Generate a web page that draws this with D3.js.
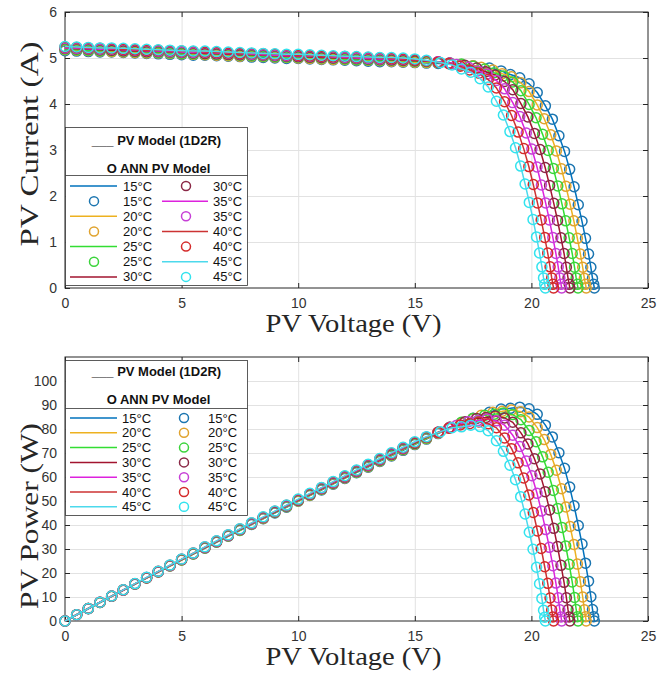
<!DOCTYPE html>
<html>
<head>
<meta charset="utf-8">
<script src="https://cdn.jsdelivr.net/npm/d3@7"></script>
<style>
  body { margin: 0; background: #fff; }
  svg { display: block; }
  .grid line { stroke: #e2e2e2; stroke-width: 1; }
  .grid path { display: none; }
  .axis path { display: none; }
  .axis line { stroke: #262626; }
  .axis text { font-family: "Liberation Sans", Arial, sans-serif; font-size: 14px; fill: #333; }
  .title { font-family: "Liberation Serif", "Times New Roman", serif; font-size: 25px; fill: #262626; }
  .legend text { font-family: "Liberation Sans", Arial, sans-serif; font-size: 13px; fill: #111; }
  .legend .head { font-weight: bold; }
</style>
</head>
<body>
<svg id="chart" width="670" height="673"></svg>
<script>
const temperatures = ["15°C", "20°C", "25°C", "30°C", "35°C", "40°C", "45°C"];

const xTicks = [0, 5, 10, 15, 20, 25];
const currentTicks = [0, 1, 2, 3, 4, 5, 6];
const powerTicks = [0, 10, 20, 30, 40, 50, 60, 70, 80, 90, 100];

// voltage steps along the flat part of every curve (V)
const flatVoltage = [0, 0.5, 1, 1.5, 2, 2.5, 3, 3.5, 4, 4.5, 5, 5.5, 6, 6.5, 7, 7.5, 8, 8.5,
  9, 9.5, 10, 10.5, 11, 11.5, 12, 12.5, 13, 13.5, 14, 14.5, 15, 15.5, 16, 16.5, 17, 17.5];

// voltages past the knee, down to Voc
const kneeVoltage15 = [18.2, 18.7, 19.1, 19.5, 19.9, 20.25, 20.6, 20.9, 21.18, 21.42, 21.64, 21.83, 22.01, 22.17, 22.32, 22.45, 22.55, 22.62, 22.67, 22.7];
const kneeVoltage20 = [17.85, 18.35, 18.75, 19.15, 19.55, 19.9, 20.25, 20.55, 20.83, 21.07, 21.29, 21.48, 21.66, 21.82, 21.97, 22.1, 22.2, 22.27, 22.32, 22.35];
const kneeVoltage25 = [17.5, 18.0, 18.4, 18.8, 19.2, 19.55, 19.9, 20.2, 20.48, 20.72, 20.94, 21.13, 21.31, 21.47, 21.62, 21.75, 21.85, 21.92, 21.97, 22.0];
const kneeVoltage30 = [17.15, 17.65, 18.05, 18.45, 18.85, 19.2, 19.55, 19.85, 20.13, 20.37, 20.59, 20.78, 20.96, 21.12, 21.27, 21.4, 21.5, 21.57, 21.62, 21.65];
const kneeVoltage35 = [16.8, 17.3, 17.7, 18.1, 18.5, 18.85, 19.2, 19.5, 19.78, 20.02, 20.24, 20.43, 20.61, 20.77, 20.92, 21.05, 21.15, 21.22, 21.27, 21.3];
const kneeVoltage40 = [16.45, 16.95, 17.35, 17.75, 18.15, 18.5, 18.85, 19.15, 19.43, 19.67, 19.89, 20.08, 20.26, 20.42, 20.57, 20.7, 20.8, 20.87, 20.92, 20.95];
const kneeVoltage45 = [16.1, 16.6, 17.0, 17.4, 17.8, 18.15, 18.5, 18.8, 19.08, 19.32, 19.54, 19.73, 19.91, 20.07, 20.22, 20.35, 20.45, 20.52, 20.57, 20.6];

// PV current (A): flat part then knee part
const current15 = [5.16, 5.15, 5.14, 5.13, 5.13, 5.12, 5.11, 5.10, 5.09, 5.08, 5.07, 5.06, 5.06, 5.05, 5.04, 5.03, 5.02, 5.01,
  5.00, 4.99, 4.99, 4.98, 4.97, 4.96, 4.95, 4.94, 4.93, 4.92, 4.92, 4.91, 4.90, 4.89, 4.88, 4.87, 4.85, 4.83,
  4.78, 4.72, 4.64, 4.57, 4.44, 4.25, 3.96, 3.67, 3.31, 2.97, 2.58, 2.20, 1.81, 1.45, 1.08, 0.74, 0.45, 0.21, 0.08, 0];
const current20 = [5.18, 5.17, 5.16, 5.15, 5.14, 5.13, 5.12, 5.11, 5.11, 5.10, 5.09, 5.08, 5.07, 5.06, 5.05, 5.04, 5.04, 5.03,
  5.02, 5.01, 5.00, 4.99, 4.98, 4.97, 4.97, 4.96, 4.95, 4.94, 4.93, 4.92, 4.91, 4.90, 4.90, 4.88, 4.85, 4.83,
  4.80, 4.74, 4.66, 4.59, 4.46, 4.27, 3.98, 3.68, 3.33, 2.98, 2.59, 2.21, 1.82, 1.46, 1.08, 0.74, 0.45, 0.21, 0.08, 0];
const current25 = [5.19, 5.18, 5.17, 5.16, 5.16, 5.15, 5.14, 5.13, 5.12, 5.11, 5.10, 5.09, 5.09, 5.08, 5.07, 5.06, 5.05, 5.04,
  5.03, 5.02, 5.02, 5.01, 5.00, 4.99, 4.98, 4.97, 4.96, 4.95, 4.95, 4.94, 4.93, 4.92, 4.91, 4.89, 4.87,
  4.82, 4.76, 4.68, 4.61, 4.48, 4.29, 3.99, 3.70, 3.34, 2.99, 2.60, 2.22, 1.83, 1.46, 1.09, 0.75, 0.45, 0.22, 0.08, 0];
const current30 = [5.21, 5.20, 5.19, 5.18, 5.17, 5.16, 5.15, 5.14, 5.14, 5.13, 5.12, 5.11, 5.10, 5.09, 5.08, 5.07, 5.07, 5.06,
  5.05, 5.04, 5.03, 5.02, 5.01, 5.00, 5.00, 4.99, 4.98, 4.97, 4.96, 4.95, 4.94, 4.93, 4.92, 4.89,
  4.84, 4.78, 4.70, 4.63, 4.49, 4.31, 4.01, 3.72, 3.36, 3.01, 2.62, 2.23, 1.84, 1.47, 1.09, 0.75, 0.45, 0.22, 0.08, 0];
const current35 = [5.22, 5.21, 5.20, 5.19, 5.19, 5.18, 5.17, 5.16, 5.15, 5.14, 5.13, 5.12, 5.12, 5.11, 5.10, 5.09, 5.08, 5.07,
  5.06, 5.05, 5.05, 5.04, 5.03, 5.02, 5.01, 5.00, 4.99, 4.98, 4.98, 4.97, 4.96, 4.94, 4.92, 4.89,
  4.86, 4.80, 4.72, 4.65, 4.51, 4.33, 4.03, 3.73, 3.37, 3.02, 2.63, 2.24, 1.85, 1.48, 1.10, 0.75, 0.46, 0.22, 0.08, 0];
const current40 = [5.24, 5.23, 5.22, 5.21, 5.20, 5.19, 5.18, 5.17, 5.17, 5.16, 5.15, 5.14, 5.13, 5.12, 5.11, 5.10, 5.10, 5.09,
  5.08, 5.07, 5.06, 5.05, 5.04, 5.03, 5.03, 5.02, 5.01, 5.00, 4.99, 4.98, 4.96, 4.94, 4.91,
  4.88, 4.82, 4.74, 4.67, 4.53, 4.35, 4.05, 3.75, 3.39, 3.03, 2.64, 2.25, 1.85, 1.48, 1.10, 0.76, 0.46, 0.22, 0.08, 0];
const current45 = [5.25, 5.24, 5.23, 5.22, 5.22, 5.21, 5.20, 5.19, 5.18, 5.17, 5.16, 5.15, 5.15, 5.14, 5.13, 5.12, 5.11, 5.10,
  5.09, 5.08, 5.08, 5.07, 5.06, 5.05, 5.04, 5.03, 5.02, 5.01, 5.01, 5.00, 4.98, 4.95,
  4.90, 4.85, 4.76, 4.69, 4.55, 4.37, 4.06, 3.76, 3.40, 3.05, 2.65, 2.26, 1.86, 1.49, 1.11, 0.76, 0.46, 0.22, 0.08, 0];

// PV power (W), same points
const power15 = [0, 2.6, 5.1, 7.7, 10.3, 12.8, 15.3, 17.9, 20.4, 22.9, 25.4, 27.9, 30.3, 32.8, 35.3, 37.7, 40.2, 42.6,
  45.0, 47.4, 49.9, 52.3, 54.6, 57.0, 59.4, 61.8, 64.1, 66.5, 68.8, 71.1, 73.5, 75.8, 78.1, 80.4, 82.5, 84.5,
  87.0, 88.3, 88.6, 89.1, 88.4, 86.1, 81.6, 76.7, 70.1, 63.6, 55.8, 48.0, 39.8, 32.1, 24.1, 16.6, 10.1, 4.8, 1.8, 0];
const power20 = [0, 2.6, 5.2, 7.7, 10.3, 12.8, 15.4, 17.9, 20.4, 22.9, 25.4, 27.9, 30.4, 32.9, 35.4, 37.8, 40.3, 42.7,
  45.2, 47.6, 50.0, 52.4, 54.8, 57.2, 59.6, 62.0, 64.3, 66.7, 69.0, 71.4, 73.7, 76.0, 78.3, 80.5, 82.5, 84.4,
  85.7, 87.0, 87.4, 87.9, 87.2, 85.0, 80.6, 75.6, 69.4, 62.8, 55.1, 47.5, 39.4, 31.9, 23.7, 16.4, 10.0, 4.7, 1.8, 0];
const power25 = [0, 2.6, 5.2, 7.7, 10.3, 12.9, 15.4, 18.0, 20.5, 23.0, 25.5, 28.0, 30.5, 33.0, 35.5, 37.9, 40.4, 42.9,
  45.3, 47.7, 50.2, 52.6, 55.0, 57.4, 59.8, 62.1, 64.5, 66.9, 69.2, 71.6, 73.9, 76.2, 78.6, 80.7, 82.8,
  84.4, 85.7, 86.1, 86.7, 86.0, 83.9, 79.4, 74.7, 68.4, 62.0, 54.4, 46.9, 39.0, 31.3, 23.6, 16.3, 9.8, 4.8, 1.8, 0];
const power30 = [0, 2.6, 5.2, 7.8, 10.3, 12.9, 15.5, 18.0, 20.5, 23.1, 25.6, 28.1, 30.6, 33.1, 35.6, 38.1, 40.5, 43.0,
  45.4, 47.9, 50.3, 52.7, 55.1, 57.5, 59.9, 62.3, 64.7, 67.1, 69.4, 71.8, 74.1, 76.5, 78.6, 80.7,
  83.0, 84.4, 84.8, 85.4, 84.6, 82.8, 78.4, 73.8, 67.6, 61.3, 53.9, 46.3, 38.6, 31.0, 23.2, 16.1, 9.7, 4.7, 1.7, 0];
const power35 = [0, 2.6, 5.2, 7.8, 10.4, 12.9, 15.5, 18.1, 20.6, 23.1, 25.7, 28.2, 30.7, 33.2, 35.7, 38.2, 40.6, 43.1,
  45.6, 48.0, 50.5, 52.9, 55.3, 57.7, 60.1, 62.5, 64.9, 67.3, 69.7, 72.0, 74.4, 76.6, 78.6, 80.6,
  81.6, 83.0, 83.5, 84.2, 83.4, 81.6, 77.4, 72.7, 66.7, 60.5, 53.2, 45.8, 38.1, 30.7, 23.0, 15.8, 9.7, 4.7, 1.7, 0];
const power40 = [0, 2.6, 5.2, 7.8, 10.4, 13.0, 15.5, 18.1, 20.7, 23.2, 25.7, 28.3, 30.8, 33.3, 35.8, 38.3, 40.8, 43.2,
  45.7, 48.2, 50.6, 53.0, 55.5, 57.9, 60.3, 62.7, 65.1, 67.5, 69.9, 72.2, 74.4, 76.6, 78.6,
  80.3, 81.7, 82.2, 82.9, 82.2, 80.5, 76.3, 71.8, 65.9, 59.6, 52.5, 45.2, 37.5, 30.2, 22.6, 15.7, 9.6, 4.6, 1.7, 0];
const power45 = [0, 2.6, 5.2, 7.8, 10.4, 13.0, 15.6, 18.2, 20.7, 23.3, 25.8, 28.3, 30.9, 33.4, 35.9, 38.4, 40.9, 43.4,
  45.8, 48.3, 50.8, 53.2, 55.6, 58.1, 60.5, 62.9, 65.3, 67.7, 70.1, 72.4, 74.7, 76.8,
  78.9, 80.5, 80.9, 81.6, 81.0, 79.3, 75.1, 70.7, 64.9, 58.9, 51.8, 44.6, 37.0, 29.9, 22.4, 15.5, 9.4, 4.5, 1.6, 0];

const lineColors = ["#0072BD", "#EDB120", "#33DD33", "#A2142F", "#DD22DD", "#CC3333", "#4DD9EC"];
const markerColors = ["#1B75B0", "#E0A32E", "#3BD43B", "#8A2846", "#C63FD6", "#D42A2A", "#33E3EE"];

const kneeVoltages = [kneeVoltage15, kneeVoltage20, kneeVoltage25, kneeVoltage30, kneeVoltage35, kneeVoltage40, kneeVoltage45];
const currents = [current15, current20, current25, current30, current35, current40, current45];
const powers = [power15, power20, power25, power30, power35, power40, power45];

const series = temperatures.map((t, k) => {
    const nFlat = currents[k].length - kneeVoltages[k].length;
    const volts = flatVoltage.slice(0, nFlat).concat(kneeVoltages[k]);
    return {
        label: t,
        line: lineColors[k],
        marker: markerColors[k],
        points: volts.map((v, i) => ({v: v, current: currents[k][i], power: powers[k][i]}))
    };
});

const svg = d3.select("#chart");
const left = 65, right = 648;

function drawPanel(cfg) {
    const x = d3.scaleLinear().domain([0, 25]).range([left, right]);
    const y = d3.scaleLinear().domain(cfg.yDomain).range([cfg.bottom, cfg.top]);
    const w = right - left, h = cfg.bottom - cfg.top;
    const g = svg.append("g");

    g.append("g").attr("class", "grid")
        .attr("transform", "translate(0," + cfg.bottom + ")")
        .call(d3.axisBottom(x).tickValues(xTicks.slice(1, -1)).tickSize(-h).tickFormat(""));
    g.append("g").attr("class", "grid")
        .attr("transform", "translate(" + left + ",0)")
        .call(d3.axisLeft(y).tickValues(cfg.yTicks.slice(1)).tickSize(-w).tickFormat(""));

    g.append("rect")
        .attr("x", left).attr("y", cfg.top)
        .attr("width", w).attr("height", h)
        .attr("fill", "none").attr("stroke", "#262626").attr("stroke-width", 1);

    g.append("g").attr("class", "axis")
        .attr("transform", "translate(0," + cfg.bottom + ")")
        .call(d3.axisBottom(x).tickValues(xTicks).tickFormat(d3.format("d"))
            .tickSizeInner(-5).tickSizeOuter(0).tickPadding(10));
    g.append("g").attr("class", "axis")
        .attr("transform", "translate(0," + cfg.top + ")")
        .call(d3.axisTop(x).tickValues(xTicks).tickSizeInner(-5).tickSizeOuter(0).tickFormat(""));
    g.append("g").attr("class", "axis")
        .attr("transform", "translate(" + left + ",0)")
        .call(d3.axisLeft(y).tickValues(cfg.yTicks).tickFormat(d3.format("d"))
            .tickSizeInner(-5).tickSizeOuter(0).tickPadding(8));
    g.append("g").attr("class", "axis")
        .attr("transform", "translate(" + right + ",0)")
        .call(d3.axisRight(y).tickValues(cfg.yTicks).tickSizeInner(-5).tickSizeOuter(0).tickFormat(""));

    const line = d3.line().x((d) => x(d.v)).y((d) => y(d[cfg.key]));
    series.forEach((s) => {
        g.append("path")
            .attr("d", line(s.points))
            .attr("fill", "none")
            .attr("stroke", s.line)
            .attr("stroke-width", 1.5);
        g.append("g").selectAll("circle")
            .data(s.points)
            .enter().append("circle")
            .attr("cx", (d) => x(d.v))
            .attr("cy", (d) => y(d[cfg.key]))
            .attr("r", 5)
            .attr("fill", "none")
            .attr("stroke", s.marker)
            .attr("stroke-width", 1.5);
    });

    g.append("text").attr("class", "title")
        .attr("x", (left + right) / 2 - 3).attr("y", cfg.bottom + 44)
        .attr("text-anchor", "middle")
        .attr("textLength", 176).attr("lengthAdjust", "spacingAndGlyphs")
        .text("PV Voltage (V)");
    g.append("text").attr("class", "title")
        .attr("transform", "translate(38," + cfg.titleY + ") rotate(-90)")
        .attr("text-anchor", "middle")
        .attr("textLength", cfg.titleLength).attr("lengthAdjust", "spacingAndGlyphs")
        .text(cfg.title);
}

function legendFrame(box) {
    const lg = svg.append("g").attr("class", "legend");
    lg.append("rect")
        .attr("x", box.x0).attr("y", box.y0)
        .attr("width", box.x1 - box.x0).attr("height", box.y1 - box.y0)
        .attr("fill", "#fff").attr("stroke", "#333").attr("stroke-width", 0.8);
    lg.append("line")
        .attr("x1", box.x0).attr("x2", box.x1)
        .attr("y1", box.div).attr("y2", box.div)
        .attr("stroke", "#333").attr("stroke-width", 0.8);
    const cx = (box.x0 + box.x1) / 2;
    lg.append("text").attr("class", "head")
        .attr("x", cx).attr("y", box.h1).attr("text-anchor", "middle")
        .text("___ PV Model (1D2R)");
    lg.append("text").attr("class", "head")
        .attr("x", cx + 2).attr("y", box.h2).attr("text-anchor", "middle")
        .text("O ANN PV Model");
    return lg;
}

function legendEntry(lg, type, s, col, rowY) {
    if (type === "line") {
        lg.append("line")
            .attr("x1", col.x1).attr("x2", col.x2)
            .attr("y1", rowY).attr("y2", rowY)
            .attr("stroke", s.line).attr("stroke-width", 1.5);
    } else {
        lg.append("circle")
            .attr("cx", col.cx).attr("cy", rowY).attr("r", 4.5)
            .attr("fill", "none").attr("stroke", s.marker).attr("stroke-width", 1.5);
    }
    lg.append("text")
        .attr("x", col.tx).attr("y", rowY + 4.5)
        .text(s.label);
}

// top: I-V curves
drawPanel({top: 12, bottom: 288, yDomain: [0, 6], yTicks: currentTicks, key: "current",
    title: "PV Current (A)", titleY: 144, titleLength: 205});

const topLegend = legendFrame({x0: 65.5, x1: 247.5, y0: 127.5, y1: 285.5, div: 175.5, h1: 144.5, h2: 172.5});
const topCols = [{x1: 70, x2: 117, cx: 94, tx: 123}, {x1: 162, x2: 208, cx: 186, tx: 213}];
const topEntries = [];
series.forEach((s) => { topEntries.push(["line", s]); topEntries.push(["marker", s]); });
topEntries.forEach((e, i) => {
    legendEntry(topLegend, e[0], e[1], topCols[Math.floor(i / 7)], 186 + (i % 7) * 15.15);
});

// bottom: P-V curves
drawPanel({top: 357, bottom: 621, yDomain: [0, 110], yTicks: powerTicks, key: "power",
    title: "PV Power (W)", titleY: 516, titleLength: 186});

const bottomLegend = legendFrame({x0: 65.5, x1: 247.5, y0: 360.5, y1: 515.5, div: 408.5, h1: 376, h2: 404});
const bottomCols = [{x1: 70, x2: 117, cx: 94, tx: 122}, {x1: 160, x2: 206, cx: 184, tx: 208}];
series.forEach((s, k) => {
    const rowY = 418 + k * 14.8;
    legendEntry(bottomLegend, "line", s, bottomCols[0], rowY);
    legendEntry(bottomLegend, "marker", s, bottomCols[1], rowY);
});
</script>
</body>
</html>
